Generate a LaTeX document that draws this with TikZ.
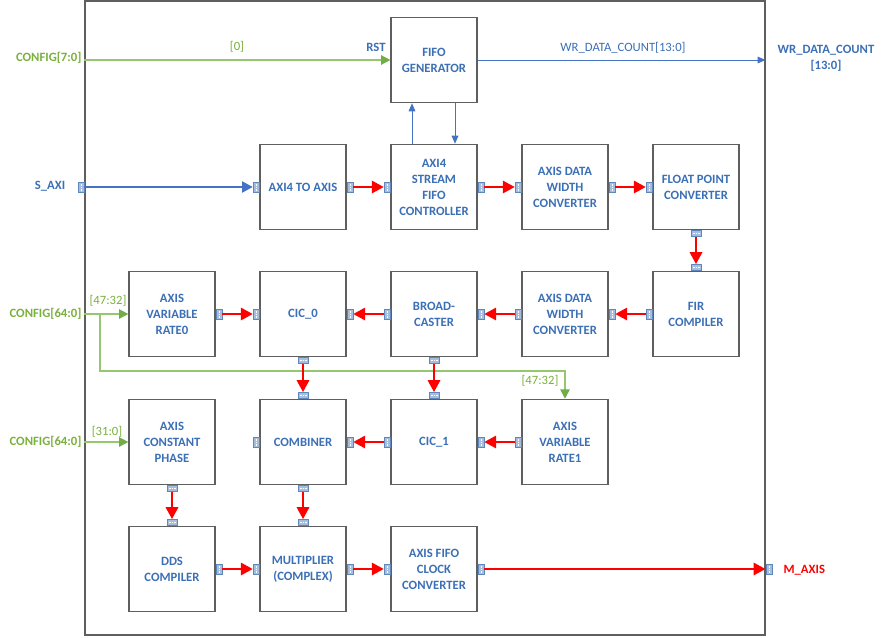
\documentclass[tikz,border=0pt]{standalone}
\usepackage{fontspec}
\setmainfont{Carlito}
\usetikzlibrary{positioning}
\usetikzlibrary{arrows.meta}

\definecolor{txtblue}{RGB}{59,111,182}
\definecolor{lineblue}{RGB}{68,114,196}
\definecolor{cfggreen}{RGB}{112,173,71}
\definecolor{cfgline}{RGB}{150,198,112}
\definecolor{cfgtext}{RGB}{122,176,60}
\definecolor{boxgray}{RGB}{95,95,95}
\definecolor{portfill}{RGB}{165,190,222}
\definecolor{portdraw}{RGB}{95,135,185}

\begin{document}
\begin{tikzpicture}[
        x = 0.75pt, y = -0.75pt, % one unit = one pixel of the drawing
        > = {Triangle[length=6pt,width=5pt]}, % arrow head style
        blk/.style = {draw=boxgray, line width=0.9pt, fill=white,
                      minimum width=64.5pt, minimum height=64pt, inner sep=1pt,
                      align=center, text=txtblue,
                      font=\fontsize{9.5}{12}\selectfont\bfseries},
        outline/.style = {draw=boxgray, line width=0.9pt,
                          minimum width=510pt, minimum height=475.5pt},
        port/.style = {draw=portdraw, fill=portfill, line width=0.4pt, inner sep=0pt},
        portv/.style = {port, minimum width=4.5pt, minimum height=7.5pt,
                        path picture={\draw[white, line width=0.4pt, dash pattern=on 1pt off 0.8pt]
                          (path picture bounding box.north) -- (path picture bounding box.south);}},
        porth/.style = {port, minimum width=7.5pt, minimum height=4.5pt,
                        path picture={\draw[white, line width=0.4pt, dash pattern=on 1pt off 0.8pt]
                          (path picture bounding box.west) -- (path picture bounding box.east);}},
        portE/.style = {portv, anchor=west},
        portW/.style = {portv, anchor=east},
        portS/.style = {porth, anchor=north},
        portN/.style = {porth, anchor=south},
        lbl/.style = {inner sep=1pt, font=\fontsize{9.5}{12}\selectfont\bfseries},
        bits/.style = {inner sep=1pt, text=cfgtext, font=\fontsize{9.5}{12}\selectfont},
        axis/.style = {red, line width=2.2pt, -{Triangle[length=9pt,width=9pt]}},
        saxi/.style = {lineblue, line width=2.2pt, -{Triangle[length=8pt,width=8pt]}},
        ctl/.style = {lineblue, line width=0.75pt, ->},
        cfg/.style = {cfgline, line width=1.2pt, -{Triangle[length=7pt,width=7pt,color=cfggreen]}}
        ]
  \useasboundingbox (0,0) rectangle (886,637);

  % outer block
  \node[outline] (top) at (425,318) {};

  % blocks
  \node[blk] (fifogen)   at (434,60)  {FIFO\\GENERATOR};

  \node[blk] (axitoaxis) at (303,187) {AXI4 TO AXIS};
  \node[blk] (fifoctrl)  at (434,187) {AXI4\\STREAM\\FIFO\\CONTROLLER};
  \node[blk] (dwc0)      at (565,187) {AXIS DATA\\WIDTH\\CONVERTER};
  \node[blk] (floatconv) at (696,187) {FLOAT POINT\\CONVERTER};

  \node[blk] (varrate0)  at (172,314) {AXIS\\VARIABLE\\RATE0};
  \node[blk] (cic0)      at (303,314) {CIC\_0};
  \node[blk] (bcast)     at (434,314) {BROAD-\\CASTER};
  \node[blk] (dwc1)      at (565,314) {AXIS DATA\\WIDTH\\CONVERTER};
  \node[blk] (fir)       at (696,314) {FIR\\COMPILER};

  \node[blk] (constphase) at (172,442) {AXIS\\CONSTANT\\PHASE};
  \node[blk] (combiner)   at (303,442) {COMBINER};
  \node[blk] (cic1)       at (434,442) {CIC\_1};
  \node[blk] (varrate1)   at (565,442) {AXIS\\VARIABLE\\RATE1};

  \node[blk] (dds)       at (172,569) {DDS\\COMPILER};
  \node[blk] (mult)      at (303,569) {MULTIPLIER\\(COMPLEX)};
  \node[blk] (clkconv)   at (434,569) {AXIS FIFO\\CLOCK\\CONVERTER};

  % stream ports
  \foreach \b in {axitoaxis,fifoctrl,dwc0,varrate0,cic0,bcast,dwc1,combiner,cic1,dds,mult,clkconv}
    \node[portE] (\b-E) at (\b.east) {};
  \foreach \b in {axitoaxis,fifoctrl,dwc0,floatconv,cic0,bcast,dwc1,fir,combiner,cic1,varrate1,mult,clkconv}
    \node[portW] (\b-W) at (\b.west) {};
  \foreach \b in {floatconv,cic0,bcast,constphase,combiner}
    \node[portS] (\b-S) at (\b.south) {};
  \foreach \b in {fir,combiner,cic1,dds,mult}
    \node[portN] (\b-N) at (\b.north) {};
  \node[portW] (saxiport)  at (top.west |- axitoaxis) {};
  \node[portE] (maxisport) at (top.east |- clkconv) {};

  % outside labels
  \node[lbl, text=cfgtext, anchor=east] (cfg7)  at (83,58)  {CONFIG[7:0]};
  \node[lbl, text=txtblue] (saxilbl)            at (50,186) {S\_AXI};
  \node[lbl, text=cfgtext, anchor=east] (cfg64a) at (83,314) {CONFIG[64:0]};
  \node[lbl, text=cfgtext, anchor=east] (cfg64b) at (83,442) {CONFIG[64:0]};
  \node[lbl, text=txtblue, align=center] (wrlbl) at (826,58) {WR\_DATA\_COUNT\\{}[13:0]};
  \node[lbl, text=red, anchor=west] (maxislbl)   at (782,570) {M\_AXIS};

  % line labels
  \node[bits] (b0)    at (237,47)  {[0]};
  \node[lbl, text=txtblue] (rst) at (376,47) {RST};
  \node[bits, text=txtblue] (wrbits) at (623,48) {WR\_DATA\_COUNT[13:0]};
  \node[bits] (b4732a) at (108,301) {[47:32]};
  \node[bits] (b4732b) at (540,381) {[47:32]};
  \node[bits] (b310)   at (107,432) {[31:0]};

  % config inputs
  \draw[cfg] (top.west |- fifogen) -- (fifogen.west);
  \draw[cfg] (top.west |- varrate0) -- (varrate0.west);
  \draw[cfg] (top.west |- constphase) -- (constphase.west);
  \coordinate (split) at (100,314);
  \coordinate (jog) at (0,371);
  \draw[cfg] (split) |- (varrate1.north |- jog) -- (varrate1.north);

  % fifo handshake and count
  \draw[ctl] ([xshift=-16.5pt]fifoctrl.north) -- ([xshift=-16.5pt]fifogen.south);
  \draw[ctl] ([xshift=15.75pt]fifogen.south) -- ([xshift=15.75pt]fifoctrl.north);
  \draw[ctl] (fifogen.east) -- (top.east |- fifogen);

  % stream path
  \draw[saxi] (saxiport) -- (axitoaxis-W);
  \draw[axis] (axitoaxis-E) -- (fifoctrl-W);
  \draw[axis] (fifoctrl-E) -- (dwc0-W);
  \draw[axis] (dwc0-E) -- (floatconv-W);
  \draw[axis] (floatconv-S) -- (fir-N);
  \draw[axis] (fir-W) -- (dwc1-E);
  \draw[axis] (dwc1-W) -- (bcast-E);
  \draw[axis] (bcast-W) -- (cic0-E);
  \draw[axis] (varrate0-E) -- (cic0-W);
  \draw[axis] (cic0-S) -- (combiner-N);
  \draw[axis] (bcast-S) -- (cic1-N);
  \draw[axis] (cic1-W) -- (combiner-E);
  \draw[axis] (varrate1-W) -- (cic1-E);
  \draw[axis] (constphase-S) -- (dds-N);
  \draw[axis] (combiner-S) -- (mult-N);
  \draw[axis] (dds-E) -- (mult-W);
  \draw[axis] (mult-E) -- (clkconv-W);
  \draw[axis] (clkconv-E) -- (maxisport);

\end{tikzpicture}
\end{document}
